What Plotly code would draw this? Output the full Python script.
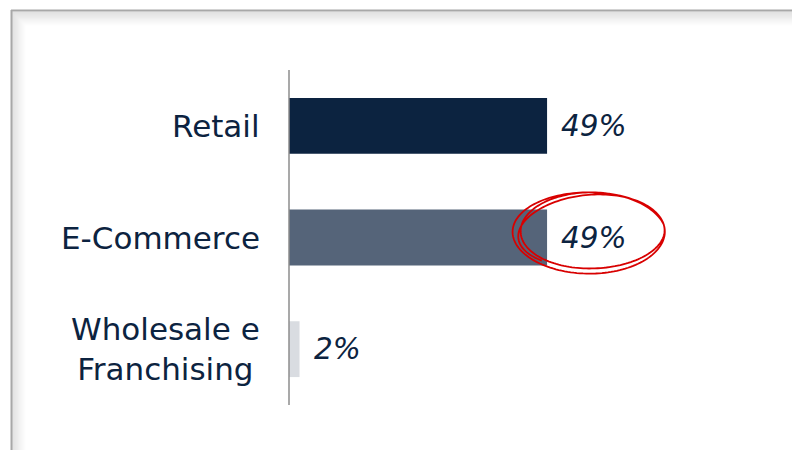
import numpy as np
import plotly.graph_objects as go

categories = ["Retail", "E-Commerce", "Wholesale e<br>Franchising"]
values = [49, 49, 2]
labels = ["49%", "49%", "2%"]
colors = ["#0C2340", "#556479", "#D9DCE1"]

W, H = 800, 450
OFF = 8  # page body margin
L, R, T, B = 281, 45, 62, 53
PW, PH = W - L - R, H - T - B

def px(x):
    return (x - OFF - L) / PW

def py(y):
    return (H - B - (y - OFF)) / PH

navy = "#0C2340"
font_family = "DejaVu Sans"

fig = go.Figure()
fig.add_trace(go.Bar(
    y=categories, x=values, orientation="h",
    marker=dict(color=colors, line=dict(width=0)),
    width=0.5, hoverinfo="skip",
))

annotations = []
for c, v, t in zip(categories, values, labels):
    annotations.append(dict(x=v, y=c, xref="x", yref="y", text="<i>" + t + "</i>",
                            showarrow=False, xanchor="left", xshift=12,
                            font=dict(family=font_family, size=29.5, color=navy)))
    annotations.append(dict(x=0, y=c, xref="paper", yref="y", text=c, showarrow=False,
                            xanchor="right", xshift=-27, align="center",
                            font=dict(family=font_family, size=31, color=navy)))

shapes = []
# frame shadow
for i in range(14):
    op = 0.12 * (1 - i / 14)
    shapes.append(dict(type="line", xref="paper", yref="paper",
                       x0=px(12 + i), x1=px(W + 20), y0=py(12 + i), y1=py(12 + i),
                       line=dict(color=f"rgba(0,0,0,{op:.3f})", width=1)))
    shapes.append(dict(type="line", xref="paper", yref="paper",
                       x0=px(12 + i), x1=px(12 + i), y0=py(12 + i), y1=py(H + 20),
                       line=dict(color=f"rgba(0,0,0,{op:.3f})", width=1)))
shapes.append(dict(type="line", xref="paper", yref="paper",
                   x0=px(11), x1=px(W + 20), y0=py(10.5), y1=py(10.5),
                   line=dict(color="#A8A8A8", width=2)))
shapes.append(dict(type="line", xref="paper", yref="paper",
                   x0=px(11.5), x1=px(11.5), y0=py(10), y1=py(H + 20),
                   line=dict(color="#A8A8A8", width=2)))

# hand-drawn red ellipse (continuous spiral-like stroke)
cx, cy = 591, 232
th = np.linspace(2.3, 2.3 + 2 * np.pi * 2.6, 400)
s = (th - th[0]) / (th[-1] - th[0])
rx = 76 - 5 * np.sin(3.1 * np.pi * s) - 3 * s
ry = 38 - 3 * np.cos(2.7 * np.pi * s) + 2 * s
rot = -0.05 + 0.08 * s
xs = rx * np.cos(th)
ys = ry * np.sin(th)
xr = xs * np.cos(rot) - ys * np.sin(rot) + cx + 2 * np.sin(2 * np.pi * s)
yr = xs * np.sin(rot) + ys * np.cos(rot) + cy
path = "M " + " L ".join(f"{px(x):.5f},{py(y):.5f}" for x, y in zip(xr, yr))
shapes.append(dict(type="path", xref="paper", yref="paper", path=path,
                   line=dict(color="#D80000", width=1.8)))

fig.update_layout(
    width=W, height=H,
    margin=dict(l=L, r=R, t=T, b=B),
    paper_bgcolor="white", plot_bgcolor="white",
    showlegend=False,
    xaxis=dict(range=[0, 90], visible=False, fixedrange=True),
    yaxis=dict(autorange="reversed", showticklabels=False, showgrid=False,
               zeroline=False, showline=False, ticks=""),
    annotations=annotations,
    shapes=shapes,
)
fig.add_shape(type="line", xref="paper", yref="paper", x0=0, x1=0, y0=0, y1=1,
              line=dict(color="#8C8C8C", width=1.5))

fig.write_html("out.html")
